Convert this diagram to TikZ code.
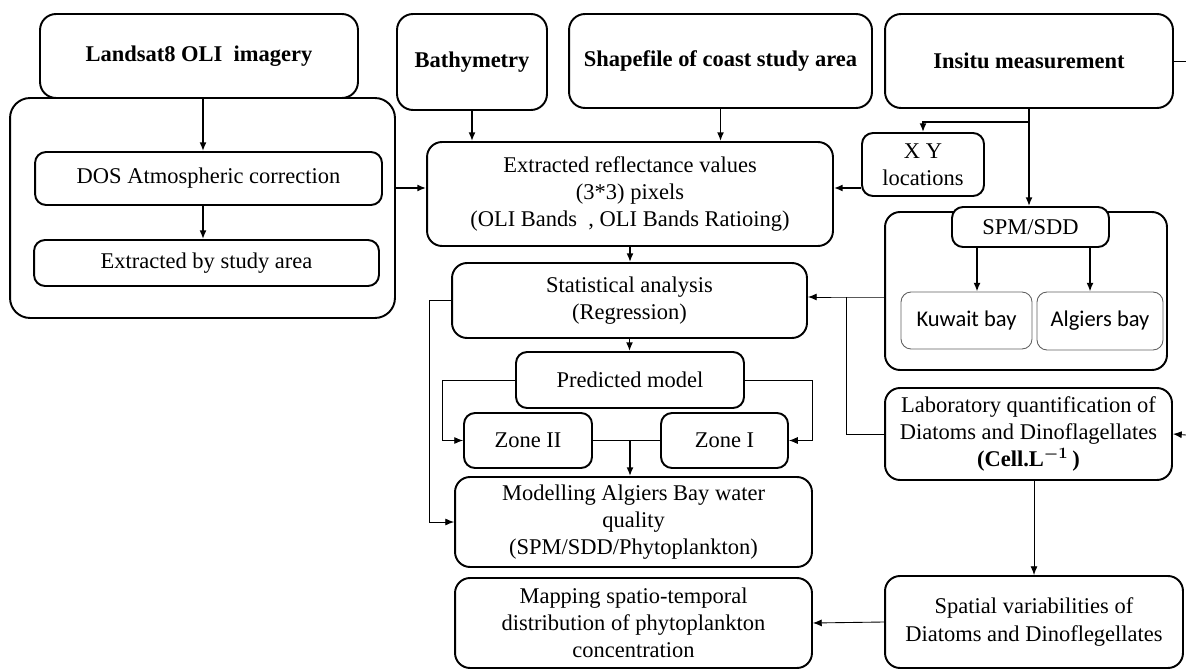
\documentclass[tikz,border=0pt]{standalone}
\usepackage{amsmath,bm}
\usepackage{fontspec}
\setmainfont{Liberation Serif}
\newfontfamily\calfont{Carlito}
\usetikzlibrary{arrows.meta,calc,positioning}
\definecolor{BayGray}{RGB}{95,95,95}

\begin{document}
\begin{tikzpicture}[x=0.02cm,y=-0.02cm,
  font=\fontsize{12.8}{15.4}\selectfont,
  box/.style={draw,line width=1.1pt,rounded corners=0.22cm,align=center,inner sep=0pt},
  head/.style={box,rounded corners=0.32cm,font=\fontsize{12.8}{15.4}\selectfont\bfseries},
  bay/.style={draw=BayGray,line width=0.5pt,rounded corners=0.2cm,inner sep=0pt,font=\fontsize{12.8}{15.4}\selectfont\calfont},
  arr/.style={-{Latex[length=5pt,width=4pt]},line width=0.9pt},
  thinarr/.style={-{Latex[length=5pt,width=4pt]},line width=0.5pt},
  thinline/.style={line width=0.5pt}]
\useasboundingbox (0,0) rectangle (1186,672);
% containers
\node[box,rounded corners=0.4cm,minimum width=7.7cm,minimum height=4.4cm] (leftc) at (202.5,208) {};
\node[box,rounded corners=0.3cm,minimum width=5.64cm,minimum height=3.16cm] (rc) at (1026,291) {};
% sources
\node[head,minimum width=6.36cm,minimum height=1.68cm] (land) at (199,56) {Landsat8 OLI\ \ imagery};
\node[head,minimum width=3cm,minimum height=1.92cm] (bathy) at (472,62) {Bathymetry};
\node[head,minimum width=6.06cm,minimum height=1.88cm] (shape) at (720.5,61) {Shapefile of coast study area};
\node[head,minimum width=5.76cm,minimum height=1.88cm] (insitu) at (1029,61) {Insitu measurement};
% preprocessing
\node[box,minimum width=6.94cm,minimum height=1.06cm] (dos) at (208.5,178.5) {DOS Atmospheric correction};
\node[box,minimum width=6.9cm,minimum height=0.92cm] (exstudy) at (206.5,263) {Extracted by study area};
\node[box,rounded corners=0.3cm,minimum width=8.12cm,minimum height=2.08cm] (extr) at (630,194)
  {Extracted reflectance values\\(3*3) pixels\\(OLI Bands\ \ , OLI Bands Ratioing)};
\node[box,minimum width=2.44cm,minimum height=1.26cm] (xy) at (923,164.5) {X Y\\locations};
\node[box,fill=white,minimum width=3.14cm,minimum height=0.8cm] (spm) at (1030.5,227) {SPM/SDD};
\node[bay,minimum width=2.62cm,minimum height=1.14cm] (kuw) at (966.5,320.5) {Kuwait bay};
\node[bay,minimum width=2.52cm,minimum height=1.16cm] (alg) at (1100,321) {Algiers bay};
% analysis
\node[box,rounded corners=0.3cm,minimum width=7.1cm,minimum height=1.5cm] (stat) at (629.5,300.5) {Statistical analysis\\(Regression)};
\node[box,minimum width=4.56cm,minimum height=1.12cm] (pred) at (630,380) {Predicted model};
\node[box,minimum width=2.56cm,minimum height=1.1cm] (zoneB) at (528,440.5) {Zone II};
\node[box,minimum width=2.54cm,minimum height=1.1cm] (zoneA) at (724.5,440.5) {Zone I};
\node[box,rounded corners=0.3cm,minimum width=7.14cm,minimum height=1.8cm] (model) at (633.5,522)
  {Modelling Algiers Bay water\\quality\\(SPM/SDD/Phytoplankton)};
\node[box,rounded corners=0.3cm,minimum width=7.14cm,minimum height=1.8cm] (map) at (633.5,623)
  {Mapping spatio-temporal\\distribution of phytoplankton\\concentration};
\node[box,rounded corners=0.3cm,minimum width=5.74cm,minimum height=1.84cm] (lab) at (1028.5,434)
  {Laboratory quantification of\\Diatoms and Dinoflagellates\\\textbf{(Cell.L}$^{\bm{-1}}$\textbf{\,)}};
\node[box,rounded corners=0.3cm,minimum width=5.96cm,minimum height=1.84cm] (spat) at (1034,622)
  {Spatial variabilities of\\Diatoms and Dinoflegellates};
% free ends at the page edge
\coordinate (edgeA) at (1186,61);
\coordinate (edgeB) at (1186,435);
\path (insitu.south) ++(0,13) coordinate (fork);
\coordinate (jn) at (846,297);

% connectors
\draw[arr] (land.south -| 203,0) -- (dos.north -| 203,0);
\draw[arr] (dos.south -| 203,0) -- (exstudy.north -| 203,0);
\draw[arr] (leftc.east |- 0,188) -- (extr.west |- 0,188);
\draw[arr] (bathy.south) -- (bathy.south |- extr.north);
\draw[arr] (shape.south) -- (shape.south |- extr.north);
\draw[arr] (insitu.south) -- (insitu.south |- spm.north);
\draw[arr] (fork) -| (xy.north);
\draw (insitu.east) -- (edgeA);
\draw[arr] (xy.west |- 0,188) -- (extr.east |- 0,188);
\draw[arr] (spm.south -| 977,0) -- (kuw.north -| 977,0);
\draw[arr] (spm.south -| 1090,0) -- (alg.north -| 1090,0);
\draw[thinarr] (rc.west |- jn) -- (jn) -- (jn -| stat.east);
\draw[thinline] (lab.west) -| (jn);
\draw[arr] (extr.south) -- (extr.south |- stat.north);
\draw[arr] (stat.south) -- (stat.south |- pred.north);
\draw[thinarr] (stat.west) -- ++(-22,0) |- (model.west);
\draw[thinarr] (pred.west) -- ++(-73,0) |- (zoneB.west);
\draw[thinarr] (pred.east) -- ++(67,0) |- (zoneA.east);
\draw[thinline] (zoneB.east) -- (zoneA.west);
\draw[arr] (zoneB.east -| pred.south) -- (pred.south |- model.north);
\draw[thinarr] (spat.north |- lab.south) -- (spat.north);
\draw[thinarr] (spat.west) -- (map.east);
\draw[thinarr] (edgeB) -- (lab.east);
\end{tikzpicture}
\end{document}
